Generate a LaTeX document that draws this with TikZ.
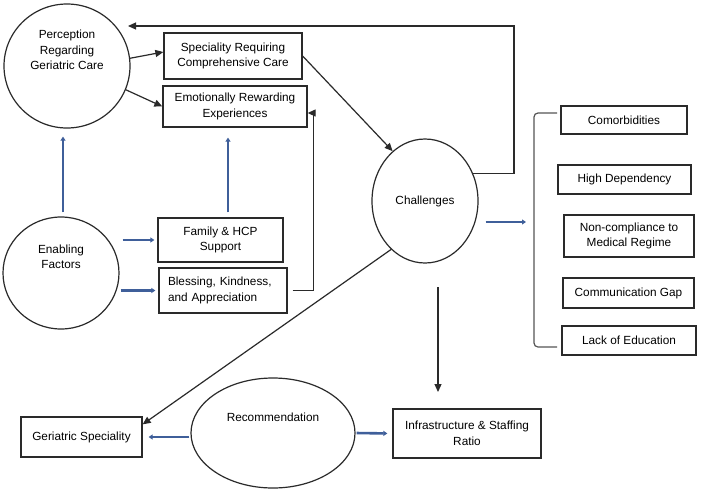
\documentclass[tikz,border=0pt]{standalone}
\usepackage{fontspec}
\setmainfont{Liberation Sans}
\usetikzlibrary{arrows.meta,shapes.geometric}
\definecolor{ink}{HTML}{2A2A2A}
\definecolor{bluearr}{HTML}{3F5F9A}
\begin{document}
\begin{tikzpicture}[x=1pt,y=-1pt,
  every node/.style={font=\fontsize{11.8}{15.5}\selectfont, text=black},
  box/.style={draw=ink, line width=1.3pt, rectangle, align=center, inner sep=0pt},
  circ/.style={draw=ink, line width=1.2pt, ellipse, inner sep=0pt},
  txt/.style={align=center, inner sep=0pt},
  arr/.style={draw=ink, line width=1.2pt, -{Triangle[length=8pt,width=7pt]}},
  plainln/.style={draw=ink!80, line width=1.2pt},
  barr/.style={draw=bluearr, line width=2.6pt, -{Triangle[length=4pt,width=5pt]}},
]
\useasboundingbox[fill=white] (0,0) rectangle (701,496);

% ellipses / circles
\node[circ, minimum width=126pt, minimum height=124pt] (perc) at (67,66) {};
\node[txt] (perct) at (67,50) {Perception\\Regarding\\Geriatric Care};
\node[circ, minimum width=106pt, minimum height=124pt] (chal) at (425,201) {Challenges};
\node[circ, minimum width=116pt, minimum height=112pt] (enab) at (61,273) {};
\node[txt] (enabt) at (61,257) {Enabling\\Factors};
\node[circ, minimum width=164pt, minimum height=110pt] (rec) at (273,433) {};
\node[txt] (rect) at (273,417) {Recommendation};

% boxes
\node[box, minimum width=138pt, minimum height=46pt] (spec) at (233,56) {Speciality Requiring\\Comprehensive Care};
\node[box, minimum width=144pt, minimum height=41pt] (emo) at (235,106.5) {Emotionally Rewarding\\Experiences};
\node[box, minimum width=125pt, minimum height=44pt] (fam) at (220.5,240) {Family \& HCP\\Support};
\node[box, minimum height=45pt, text width=110pt, inner xsep=9pt, align=left] (bless) at (223,290.5) {Blessing, Kindness,\\and Appreciation};
\node[box, minimum width=126pt, minimum height=28pt] (como) at (624,120) {Comorbidities};
\node[box, minimum width=133pt, minimum height=29pt] (high) at (624.5,179.5) {High Dependency};
\node[box, minimum width=130pt, minimum height=42pt] (nonc) at (629,236) {Non-compliance to\\Medical Regime};
\node[box, minimum width=131pt, minimum height=30pt] (comm) at (628.5,293) {Communication Gap};
\node[box, minimum width=134pt, minimum height=29pt] (lack) at (629,340.5) {Lack of Education};
\node[box, minimum width=148pt, minimum height=49pt] (infra) at (467,433.5) {Infrastructure \& Staffing\\Ratio};
\node[box, minimum width=121pt, minimum height=40pt] (geri) at (81.5,437) {Geriatric Speciality};

% free-end coordinates
\coordinate (topR) at (514,26);
\coordinate (topL) at (128,26);
\coordinate (brT) at (557,113);
\coordinate (brM) at (534,230);
\coordinate (brB) at (557,347);
\coordinate (brIn) at (526,222);
\coordinate (dnS) at (438,287);
\coordinate (dnE) at (438,392);

% black connectors
\draw[arr] (perc.7) -- ([yshift=4pt]spec.west);
\draw[arr] (perc.-22) -- (emo.west);
\draw[arr] (spec.east) -- (chal.123);
\draw[arr] (chal.30) -| (topR) -- (topL);
\draw[arr, shorten <=5pt] (bless.east) -- ++(26,0) |- ([yshift=-6.5pt]emo.east);
\draw[arr] (chal.235) -- ([yshift=-8pt]geri.north east);
\draw[arr] (dnS) -- (dnE);
\draw[plainln, rounded corners=4pt] (brT) -| (brM) |- (brB);

% blue connectors
\draw[barr] ([xshift=2pt,yshift=4pt]enab.north) -- ([xshift=-4pt,yshift=-8pt]perc.south);
\draw[barr] ([xshift=7.5pt,yshift=5pt]fam.north) -- ([xshift=-7pt,yshift=-10pt]emo.south);
\draw[barr, shorten <=3pt, shorten >=3pt] (enab.east |- fam.west) -- (fam.west);
\draw[barr, shorten <=1pt, shorten >=3pt] (enab.east |- bless.west) -- (bless.west);
\draw[barr] ([xshift=7pt,yshift=-21pt]chal.east) -- (brIn);
\draw[barr, shorten <=1pt, shorten >=6pt] (rec.west |- geri.east) -- (geri.east);
\draw[barr, shorten <=1pt, shorten >=5pt] (rec.east) -- (infra.west);
\end{tikzpicture}
\end{document}
